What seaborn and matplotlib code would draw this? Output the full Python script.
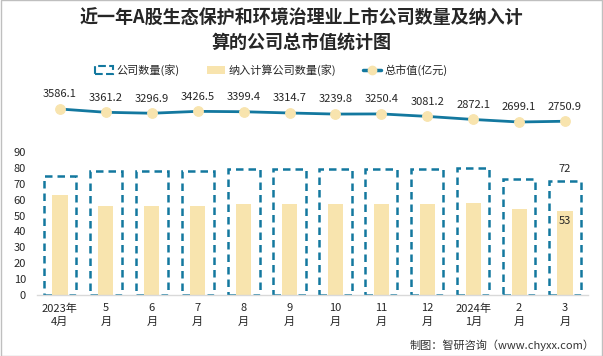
import numpy as np
import pandas as pd
import matplotlib
matplotlib.use('Agg')
import matplotlib.pyplot as plt
import seaborn as sns
from matplotlib.patches import Patch, Rectangle
from matplotlib.lines import Line2D

# 数据
meses = ['2023年\n4月', '5\n月', '6\n月', '7\n月', '8\n月', '9\n月',
         '10\n月', '11\n月', '12\n月', '2024年\n1月', '2\n月', '3\n月']
qtd_empresas = [75, 78, 78, 78, 79, 79, 79, 79, 79, 80, 73, 72]
qtd_calculo = [63, 56, 56, 56, 57, 57, 57, 57, 57, 58, 54, 53]
valor_mercado = [3586.1, 3361.2, 3296.9, 3426.5, 3399.4, 3314.7,
                 3239.8, 3250.4, 3081.2, 2872.1, 2699.1, 2750.9]

azul = '#13789f'
amarelo = '#f8e4ae'

sns.set_theme(style='white')
plt.rcParams['font.family'] = ['Noto Sans CJK SC', 'DejaVu Sans']

df = pd.DataFrame({'mes': meses, 'empresas': qtd_empresas,
                   'calculo': qtd_calculo, 'valor': valor_mercado})

W, H = 603, 356
fig = plt.figure(figsize=(W / 100, H / 100), dpi=100)

# eixo das barras
ax = fig.add_axes([37 / W, (H - 295) / H, 551 / W, 143 / H])
sns.barplot(data=df, x='mes', y='empresas', ax=ax, width=0.70,
            color='white')
for p in ax.patches:
    p.set_facecolor('none')
    p.set_edgecolor(azul)
    p.set_linestyle((0, (3, 2)))
    p.set_linewidth(1.8)
n_out = len(ax.patches)
sns.barplot(data=df, x='mes', y='calculo', ax=ax, width=0.33,
            color=amarelo, saturation=1)
for p in ax.patches[n_out:]:
    p.set_edgecolor('none')
    p.set_zorder(1)

ax.set_ylim(0, 90)
ax.set_yticks(range(0, 91, 10))
ax.set_xlim(-0.5, len(meses) - 0.5)
ax.set_xlabel('')
ax.set_ylabel('')
ax.tick_params(axis='y', length=0, pad=8, labelsize=8)
ax.tick_params(axis='x', length=0, pad=6, labelsize=8)
for lbl in ax.get_xticklabels():
    lbl.set_linespacing(1.4)
for s in ['left', 'right', 'top']:
    ax.spines[s].set_visible(False)
ax.spines['bottom'].set_color('#d9d9d9')
ax.spines['bottom'].set_linewidth(1)

# rótulos do último mês
ax.text(len(meses) - 1, qtd_empresas[-1] + 4, str(qtd_empresas[-1]),
        ha='center', va='bottom', fontsize=8)
ax.text(len(meses) - 1, qtd_calculo[-1] - 3, str(qtd_calculo[-1]),
        ha='center', va='top', fontsize=8)

# eixo da linha (valor de mercado)
ax2 = fig.add_axes([37 / W, (H - 140) / H, 551 / W, 60 / H])
x_idx = np.arange(len(meses))
sns.lineplot(x=x_idx, y=valor_mercado, ax=ax2, color=azul, linewidth=2,
             marker='o', markersize=7, markerfacecolor=amarelo,
             markeredgecolor=amarelo)
ax2.set_xlim(-0.5, len(meses) - 0.5)
ax2.set_ylim(1471, 5565)
ax2.axis('off')
for i, v in enumerate(valor_mercado):
    ax2.annotate(f'{v:.1f}', (i, v), xytext=(0, 7), textcoords='offset points',
                 ha='center', va='bottom', fontsize=8)

# título
fig.text(0.5, 1 - 18 / H, '近一年A股生态保护和环境治理业上市公司数量及纳入计',
         ha='center', va='center', fontsize=13, fontweight='bold')
fig.text(0.5, 1 - 43 / H, '算的公司总市值统计图',
         ha='center', va='center', fontsize=13, fontweight='bold')

# legenda
handles = [
    Patch(facecolor='none', edgecolor=azul, linestyle='--', linewidth=1.5),
    Patch(facecolor=amarelo, edgecolor='none'),
    Line2D([0], [0], color=azul, linewidth=2.5, marker='o', markersize=6,
           markerfacecolor=amarelo, markeredgecolor=amarelo),
]
fig.legend(handles, ['公司数量(家)', '纳入计算公司数量(家)', '总市值(亿元)'],
           loc='center', bbox_to_anchor=(0.45, 1 - 70 / H), ncol=3,
           frameon=False, fontsize=8, handlelength=1.6, handletextpad=0.3,
           columnspacing=2.5)

# fonte
fig.text(595 / W, 1 - 345 / H, '制图：智研咨询（www.chyxx.com）',
         ha='right', va='center', fontsize=8, color='#333333')

# borda
fig.patches.append(Rectangle((0.001, 0.001), 0.998, 0.998, transform=fig.transFigure,
                             fill=False, edgecolor='#bfbfbf', linewidth=1))

fig.savefig('out.png', dpi=100)
